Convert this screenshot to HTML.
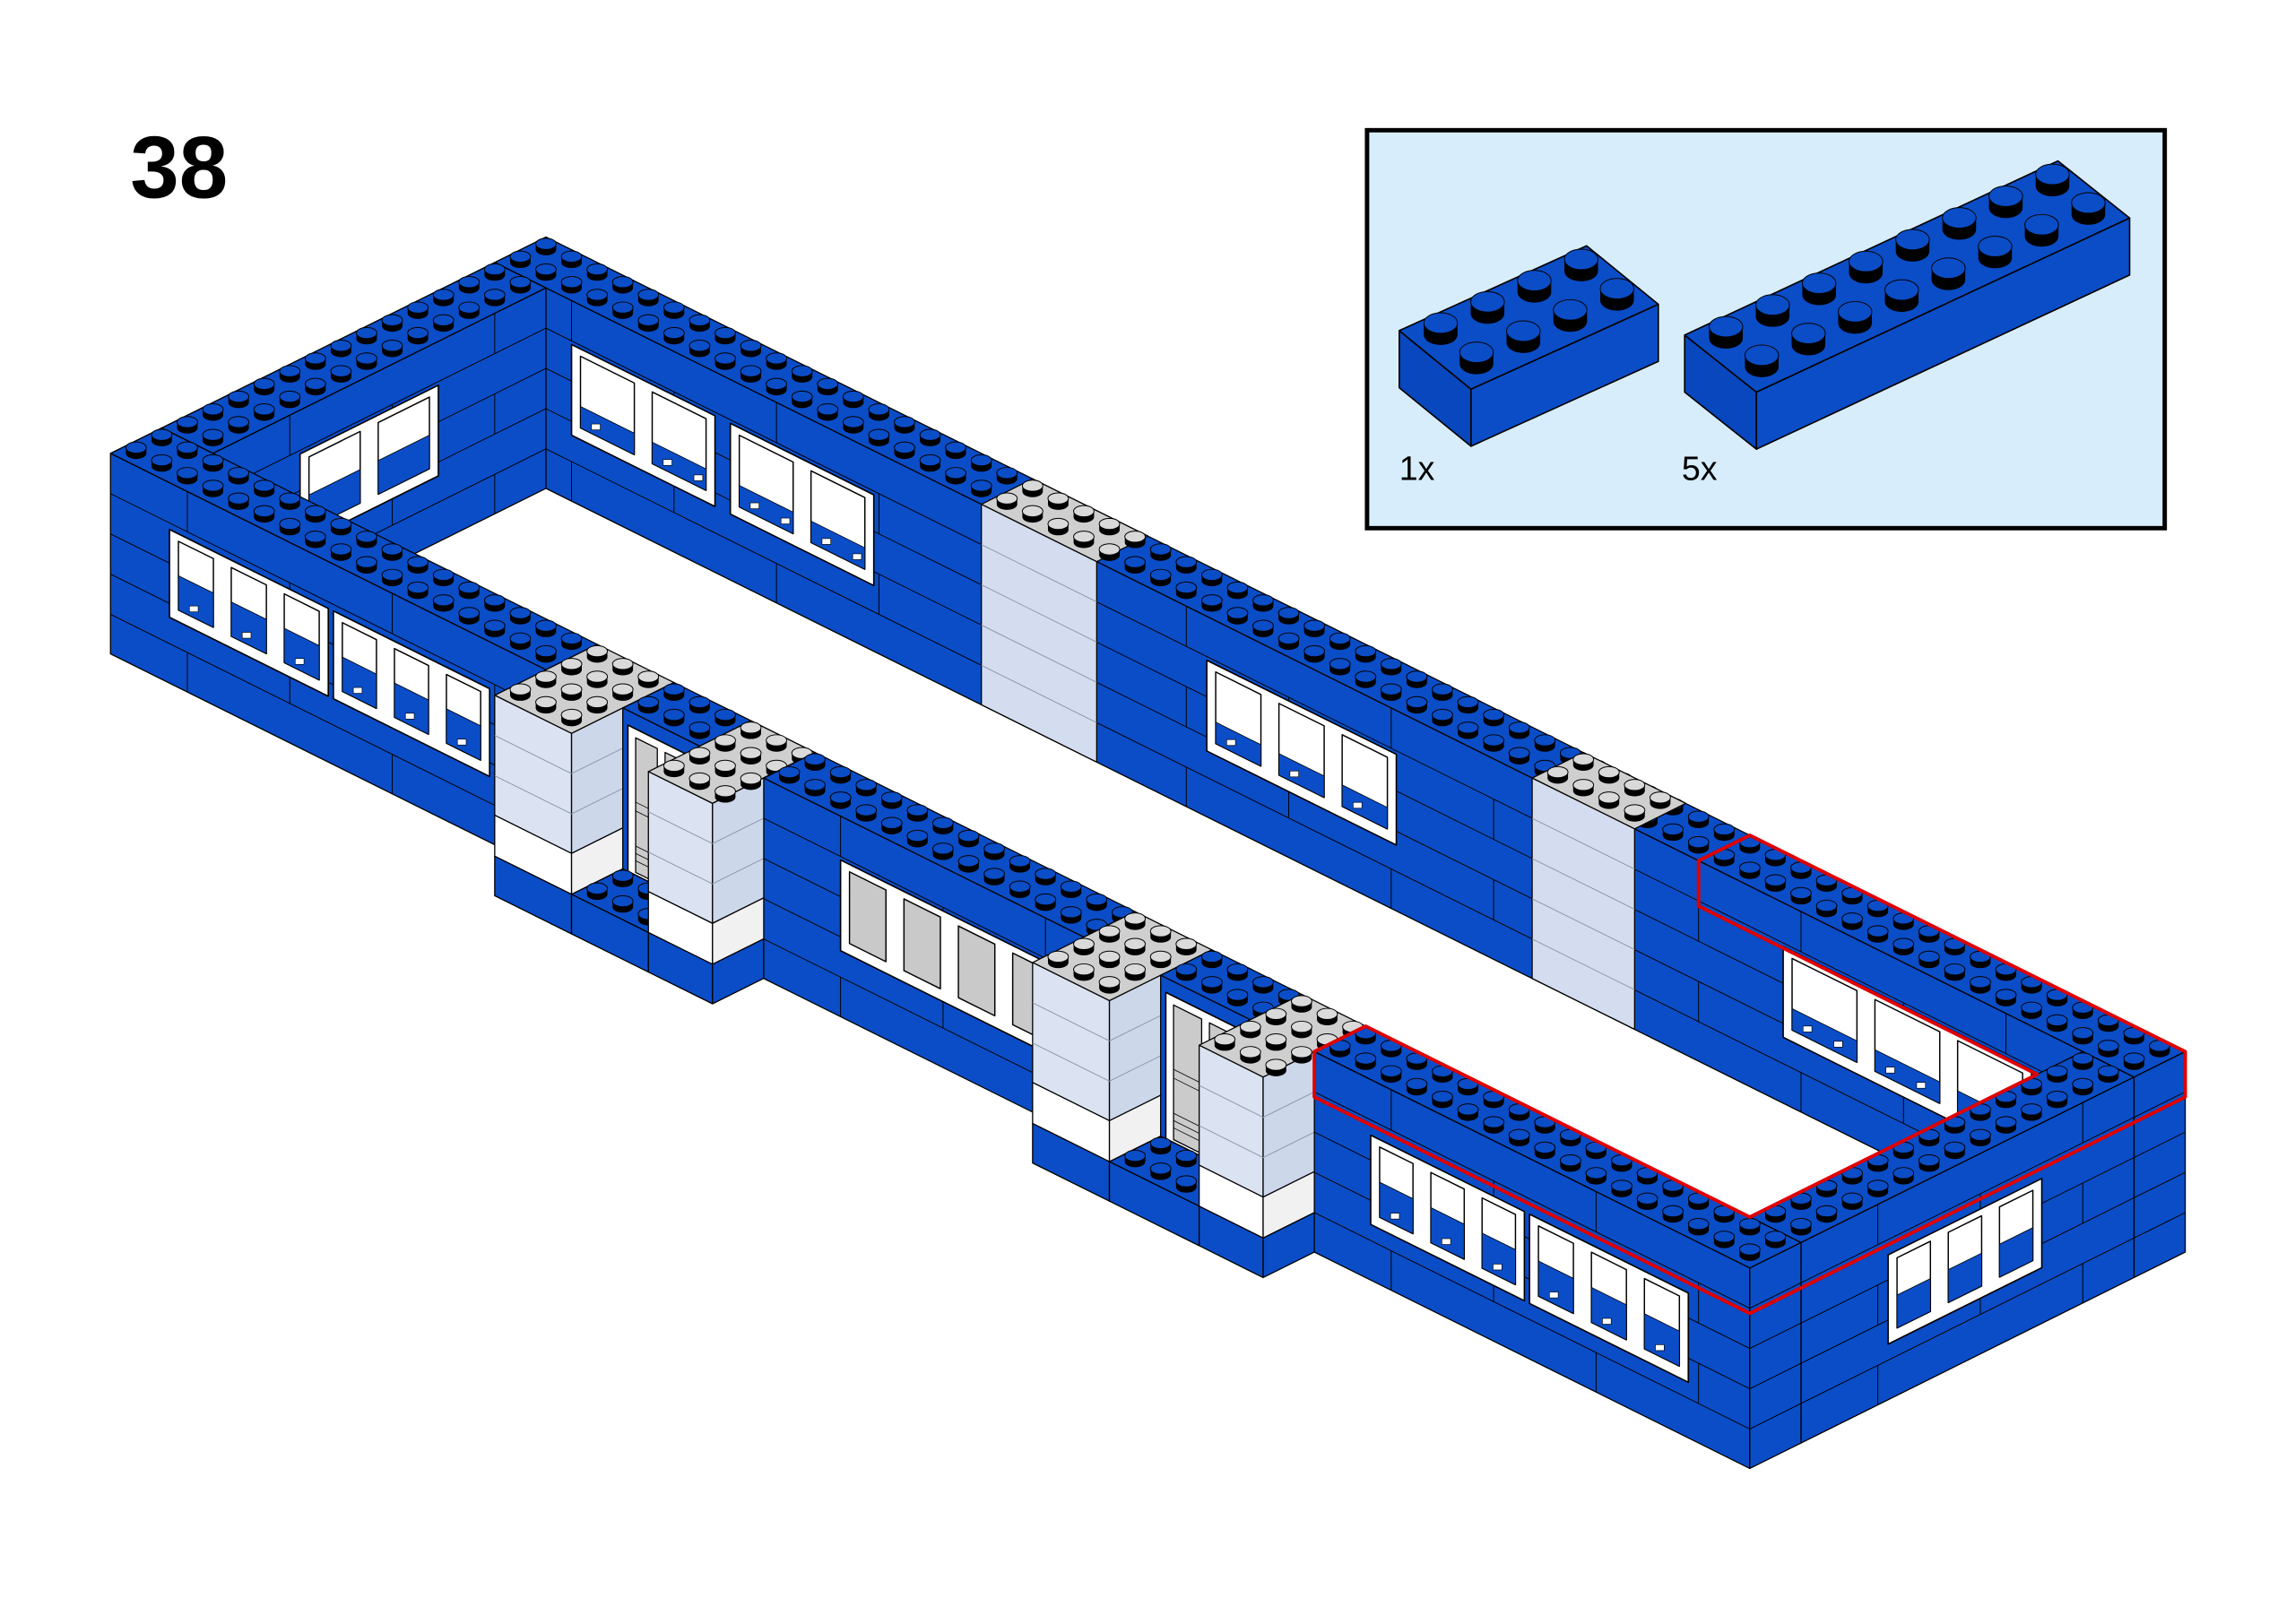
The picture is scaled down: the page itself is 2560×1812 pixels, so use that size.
<!DOCTYPE html>
<html><head><meta charset="utf-8">
<style>
html,body{margin:0;padding:0;background:#fff;}
svg{display:block;}
</style></head>
<body>
<svg id="s" xmlns="http://www.w3.org/2000/svg" width="2560" height="1812" viewBox="0 0 1568 1110" preserveAspectRatio="none">
<rect x="0" y="0" width="1568" height="1110" fill="#fff"/>
<text x="89" y="135" font-family="Liberation Sans, sans-serif" font-weight="bold" font-size="60" fill="#000">38</text>
<rect x="934" y="89" width="545" height="272" fill="#d7edfb" stroke="#000" stroke-width="3"/>
<text x="956" y="328" font-family="Liberation Sans, sans-serif" font-size="23" fill="#000">1x</text>
<text x="1149" y="328" font-family="Liberation Sans, sans-serif" font-size="23" fill="#000">5x</text>
<g id="g"></g>
</svg>
<script>
(function(){
const B='#0a4dc7';
let o='';
const S=17.5,T=8.7,OX=373,OY=162;
function P(a,b,z){return [OX+S*(a-b),OY+T*(a+b)+z];}
function pts(arr){return arr.map(p=>p[0].toFixed(1)+','+p[1].toFixed(1)).join(' ');}
function pg(arr,f,st,w){o+='<polygon points="'+pts(arr)+'" fill="'+f+'" stroke="'+(st||'#000')+'" stroke-width="'+(w||0.8)+'" stroke-linejoin="round"/>';}
function ln(p,q,st,w){o+='<line x1="'+p[0].toFixed(1)+'" y1="'+p[1].toFixed(1)+'" x2="'+q[0].toFixed(1)+'" y2="'+q[1].toFixed(1)+'" stroke="'+(st||'#000')+'" stroke-width="'+(w||0.6)+'"/>';}
function stud(cx,cy,top,rx,ry,h){
  rx=rx||7;ry=ry||3.8;h=h||4;
  o+='<path d="M'+(cx-rx).toFixed(1)+','+(cy-h).toFixed(1)+' L'+(cx-rx).toFixed(1)+','+cy.toFixed(1)+' A'+rx+','+ry+' 0 0 0 '+(cx+rx).toFixed(1)+','+cy.toFixed(1)+' L'+(cx+rx).toFixed(1)+','+(cy-h).toFixed(1)+' Z" fill="#000"/>';
  o+='<ellipse cx="'+cx.toFixed(1)+'" cy="'+(cy-h).toFixed(1)+'" rx="'+rx+'" ry="'+ry+'" fill="'+top+'" stroke="#000" stroke-width="0.6"/>';
}
function box(a0,a1,b0,b1,c){
  c=c||{};
  const z0=c.z0||0,z1=(c.z1===undefined?137:c.z1),top=c.top||B,side=c.side||B,rside=c.rside||side;
  pg([P(a0,b0,z0),P(a1,b0,z0),P(a1,b1,z0),P(a0,b1,z0)],top);
  if(c.front!==false){
    pg([P(a0,b1,z0),P(a1,b1,z0),P(a1,b1,z1),P(a0,b1,z1)],side);
    if(c.seams!==false){
      let r=0;
      for(let z=z0;z<z1-1;z+=27.5,r++){
        if(z>z0) ln(P(a0,b1,z),P(a1,b1,z));
        const zb=Math.min(z+27.5,z1);
        for(let a=a0+3+(r%2)*4;a<a1-0.5;a+=8) ln(P(a,b1,z),P(a,b1,zb));
      }
    }
  }
  if(c.right!==false){
    pg([P(a1,b0,z0),P(a1,b1,z0),P(a1,b1,z1),P(a1,b0,z1)],rside);
    if(c.seams!==false){
      let r=0;
      for(let z=z0;z<z1-1;z+=27.5,r++){
        if(z>z0) ln(P(a1,b0,z),P(a1,b1,z));
        const zb=Math.min(z+27.5,z1);
        for(let b=b0+2+(r%2)*4;b<b1-0.5;b+=8) ln(P(a1,b,z),P(a1,b,zb));
      }
    }
  }
  if(c.studs!==false){
    for(let i=a0;i<a1-0.3;i++)for(let j=b0;j<b1-0.3;j++){
      const p=P(i+0.5,j+0.5,z0);stud(p[0],p[1],c.stud||top);
    }
  }
}
function winF(a0,a1,b,z0,z1,n,glass,frac){
  frac=frac||0.5;
  pg([P(a0,b,z0),P(a1,b,z0),P(a1,b,z1+4),P(a0,b,z1+4)],'#fff','#000',1);
  const w=(a1-a0)/n;
  for(let k=0;k<n;k++){
    const s=a0+k*w+0.35,e=a0+(k+1)*w-0.35;
    pg([P(s,b,z0+5),P(e,b,z0+5),P(e,b,z1-4),P(s,b,z1-4)],glass||'#fff','#000',0.9);
    if(!glass){
      const zm=z1-4-(z1-z0-9)*frac;
      pg([P(s,b,zm),P(e,b,zm),P(e,b,z1-4),P(s,b,z1-4)],B,'#000',0.5);
      for(let t=s+0.6;t<e-0.3;t+=1.2){const p=P(t,b,z1-10);o+='<rect x="'+(p[0]-3).toFixed(1)+'" y="'+(p[1]-2).toFixed(1)+'" width="6" height="4" fill="#fff" stroke="#000" stroke-width="0.4"/>';}
    }
  }
}
function winR(a,b0,b1,z0,z1,n){
  pg([P(a,b0,z0),P(a,b1,z0),P(a,b1,z1+4),P(a,b0,z1+4)],'#fff','#000',1);
  const w=(b1-b0)/n;
  for(let k=0;k<n;k++){
    const s=b0+k*w+0.35,e=b0+(k+1)*w-0.35;
    pg([P(a,s,z0+5),P(a,e,z0+5),P(a,e,z1-4),P(a,s,z1-4)],'#fff','#000',0.9);
    pg([P(a,s,(z0+z1)/2+2),P(a,e,(z0+z1)/2+2),P(a,e,z1-4),P(a,s,z1-4)],B,'#000',0.5);
  }
}
function trans(a0,a1){
  box(a0,a1,0,2,{top:'#cfcfcf',stud:'#d9d9d9',side:'#d3ddef',right:false,seams:false});
  for(let z=27.5;z<137;z+=27.5) ln(P(a0,2,z),P(a1,2,z),'#8c98ad',0.6);
}
function pillar(x0,x1){
  pg([P(x0,15,0),P(x1,15,0),P(x1,19,0),P(x0,19,0)],'#cfcfcf');
  const bands=[[0,82,'#dbe3f2','#cdd7ea'],[82,110,'#ffffff','#f1f1f1'],[110,137,B,B]];
  for(const bd of bands){
    pg([P(x0,19,bd[0]),P(x1,19,bd[0]),P(x1,19,bd[1]),P(x0,19,bd[1])],bd[2]);
    pg([P(x1,15,bd[0]),P(x1,19,bd[0]),P(x1,19,bd[1]),P(x1,15,bd[1])],bd[3]);
  }
  for(let z=27.5;z<82;z+=27.5){ln(P(x0,19,z),P(x1,19,z),'#8c98ad');ln(P(x1,15,z),P(x1,19,z),'#8c98ad');}
  for(let i=x0;i<x1-0.3;i++)for(let j=15;j<19;j++){const p=P(i+0.5,j+0.5,0);stud(p[0],p[1],'#dadada');}
}
function doorBlock(a0,p1,p2,a1){
  pillar(a0,p1);
  box(p1,p2,15,17,{right:false,seams:false});
  pg([P(p1+0.2,17,10),P(p2-0.2,17,10),P(p2-0.2,17,110),P(p1+0.2,17,110)],'#fff','#000',1);
  const m=(p1+p2)/2;
  pg([P(p1+0.5,17,16),P(m-0.15,17,16),P(m-0.15,17,108),P(p1+0.5,17,108)],'#cbcbcb','#000',0.8);
  pg([P(m+0.15,17,16),P(p2-0.5,17,16),P(p2-0.5,17,108),P(m+0.15,17,108)],'#cbcbcb','#000',0.8);
  for(const z of [60,66,90,95,100]){ln(P(p1+0.5,17,z),P(p2-0.5,17,z),'#000',0.5);}
  box(p1,p2,17,19,{z0:110,right:false,seams:false});
  pillar(p2,a1);
}

box(0,64,0,2);
winF(3,8.6,2,30,88,2,null,0.3);
winF(9.2,14.8,2,30,88,2,null,0.3);
winF(27.8,35.2,2,30,88,3,null,0.3);
winF(50.3,60,2,30,88,3,null,0.3);
trans(19,23.5);
trans(40.5,44.5);
box(0,2,2,15);
winR(2,6.2,11.6,30,88,2);
box(62,64,2,15);
winR(64,5.6,11.6,38,95,3);
box(0,17,15,17);
winF(2.3,8.5,17,32,88,3);
winF(8.7,14.8,17,32,88,3);
doorBlock(17,20,23,25.5);
box(25.5,38,15,17);
winF(28.5,37,17,30,88,4,'#c9c9c9');
doorBlock(38,41,44.5,47);
box(47,64,15,17);
winF(49.2,55.2,17,38,95,3);
winF(55.4,61.6,17,38,95,3);
const red=[P(47,17,0),P(47,15,0),P(62,15,0),P(62,3.78,0),P(47,2,31),P(47,2,0),P(47,0,0),P(64,0,0),P(64,0,31),P(64,17,31),P(47,17,31)];
o+='<polygon points="'+pts(red)+'" fill="none" stroke="#e00000" stroke-width="2.4" stroke-linejoin="round"/>';

function add(p,q,k){return [p[0]+q[0]*k,p[1]+q[1]*k];}
function pbrick(L,Tp,F,n,H){
  const R=[Tp[0]+F[0]-L[0],Tp[1]+F[1]-L[1]];
  const dn=[0,H];
  pg([L,F,add(F,dn,1),add(L,dn,1)],'#0847bd','#000',1);
  pg([F,R,add(R,dn,1),add(F,dn,1)],'#0a4dc7','#000',1);
  pg([L,Tp,R,F],'#0a4dc7','#000',1);
  const u=[(Tp[0]-L[0])/n,(Tp[1]-L[1])/n], v=[(F[0]-L[0])/2,(F[1]-L[1])/2];
  for(let j=0;j<2;j++)for(let i=n-1;i>=0;i--){
    const cx=L[0]+(i+0.5)*u[0]+(j+0.5)*v[0], cy=L[1]+(i+0.5)*u[1]+(j+0.5)*v[1];
    stud(cx,cy,'#0a4dc7',11.5,7,8);
  }
}
pbrick([956,226],[1084,168],[1005,266],4,39);
pbrick([1151,229],[1406,110],[1200,268],8,39);

document.getElementById('g').innerHTML=o;
})();
</script>
</body></html>
